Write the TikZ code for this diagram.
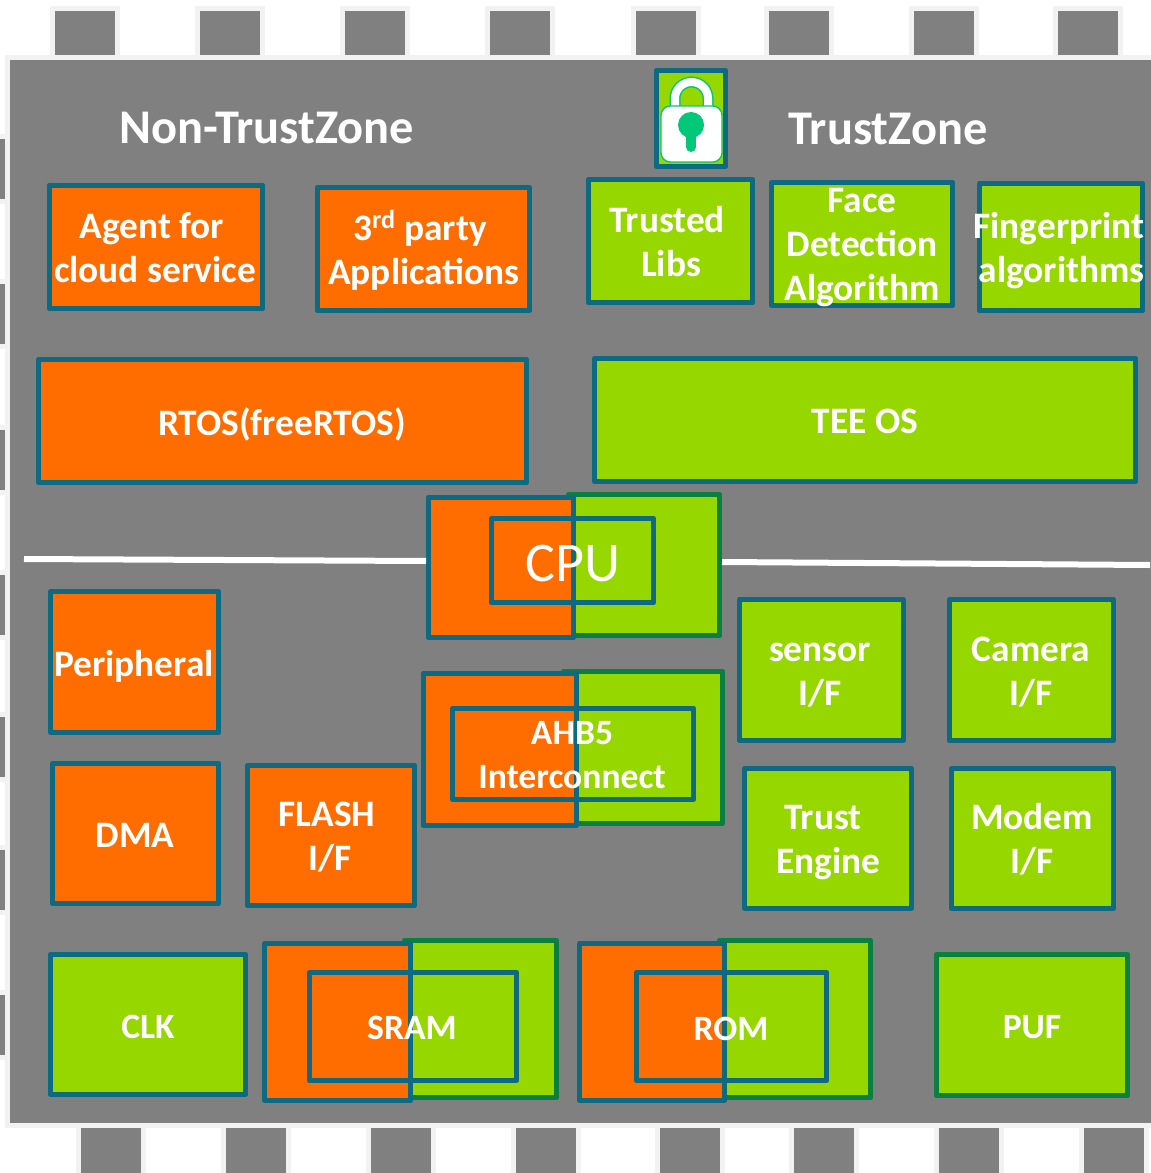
\documentclass[tikz,border=0pt]{standalone}
\usepackage{fontspec}
\setmainfont{Carlito}
\definecolor{chipgray}{HTML}{808080}
\definecolor{pinedge}{HTML}{F2F2F2}
\definecolor{orng}{HTML}{FF6D00}
\definecolor{grn}{HTML}{96D700}
\definecolor{teal}{HTML}{0E6A80}
\definecolor{dgrn}{HTML}{0A7F40}
\definecolor{lockg}{HTML}{00C878}
\tikzset{
  x=0.75pt,y=-0.75pt,
  blk/.style={rectangle,inner sep=0pt,outer sep=0pt,line width=4pt,line join=round},
  ob/.style={blk,draw=teal,fill=orng},
  gb/.style={blk,draw=teal,fill=grn},
  gd/.style={blk,draw=dgrn,fill=grn},
  hollow/.style={blk,draw=teal},
  pin/.style={rectangle,inner sep=0pt,outer sep=0pt,draw=pinedge,fill=chipgray,line width=3.75pt},
  lbl/.style={text=white,font=\fontsize{28}{33}\selectfont\bfseries,align=center,inner sep=0pt},
  lbs/.style={lbl,font=\fontsize{26.7}{33}\selectfont\bfseries},
  ttl/.style={text=white,font=\fontsize{36.3}{44}\selectfont\bfseries,inner sep=0pt},
  wline/.style={draw=white,line width=4.5pt},
}
\newcommand{\bx}[6]{%
  \pgfmathsetmacro{\bxw}{((#5)-(#3)-5)*0.75}%
  \pgfmathsetmacro{\bxh}{((#6)-(#4)-5)*0.75}%
  \pgfmathsetmacro{\bxc}{((#3)+(#5))/2}%
  \pgfmathsetmacro{\bxd}{((#4)+(#6))/2}%
  \node[#2,minimum width=\bxw pt,minimum height=\bxh pt] (#1) at (\bxc,\bxd) {};%
}
\begin{document}
\begin{tikzpicture}
\useasboundingbox (0,0) rectangle (1150,1173);
% top pins
\foreach \i/\a/\b in {1/55/115,2/200/260,3/345/405,4/490/550,5/636/696,6/769/829,7/914/974,8/1058/1118}{
  \bx{pt\i}{pin}{\a-5}{6}{\b+5}{60}
}
% bottom pins
\foreach \i/\a/\b in {1/81/141,2/226/286,3/371/431,4/516/576,5/660/720,6/794/854,7/939/999,8/1084/1144}{
  \bx{pb\i}{pin}{\a-5}{1123}{\b+5}{1180}
}
% left pins
\foreach \i/\a/\b in {1/139/199,2/284/344,3/430/490,4/575/635,5/717/777,6/850/910,7/995/1055}{
  \bx{pl\i}{pin}{-10}{\a-5}{10}{\b+5}
}
% chip
\bx{chip}{pin}{5}{55}{1160}{1128}
% lock
\bx{lockframe}{gb}{654}{68}{728}{169}
\draw[lockg,line width=8.25pt] (675,108) -- (675,98.5) arc[start angle=180,end angle=360,radius=16.5] -- (708,108);
\draw[white,line width=6pt] (675,108) -- (675,98.5) arc[start angle=180,end angle=360,radius=16.5] -- (708,108);
\fill[white,draw=lockg,line width=1pt,rounded corners=7pt] (661,106) rectangle (722,162);
\fill[lockg] (691,125) circle[radius=13];
\draw[lockg,line width=7.5pt,line cap=round] (691,128) -- (691,147);
% upper boxes
\bx{agent}{ob}{47}{183}{265}{311}
\bx{third}{ob}{315}{185}{532}{313}
\bx{libs}{gb}{586}{177}{755}{305}
\bx{face}{gb}{769}{180}{955}{308}
\bx{finger}{gb}{977}{181}{1145}{313}
\bx{rtos}{ob}{36}{357}{529}{485}
\bx{tee}{gb}{592}{356}{1138}{484}
% CPU
\bx{cpug}{gd}{566}{492}{722}{638}
\bx{cpuo}{ob}{426}{495}{576}{640}
\bx{cpui}{hollow}{489}{516}{656}{605}
% white divider
\coordinate (divl) at (24,559);
\coordinate (divla) at (426,561);
\coordinate (divr) at (1150,565);
\coordinate (divra) at (722,562);
\draw[wline] (divl) -- (divla);
\draw[wline] (divra) -- (divr);
% AHB
\bx{ahbg}{gd}{561}{669}{725}{826}
\bx{ahbo}{ob}{421}{671}{579}{828}
\bx{ahbi}{hollow}{450}{706}{696}{802}
% lower boxes
\bx{periph}{ob}{48}{589}{221}{735}
\bx{dma}{ob}{50}{761}{221}{906}
\bx{flash}{ob}{245}{763}{417}{908}
\bx{sensor}{gb}{737}{597}{906}{743}
\bx{camera}{gb}{947}{597}{1116}{743}
\bx{trust}{gb}{742}{766}{914}{911}
\bx{modem}{gb}{949}{766}{1116}{911}
\bx{clk}{gb}{48}{952}{248}{1097}
\bx{sramg}{gd}{402}{938}{559}{1100}
\bx{sramo}{ob}{262}{941}{413}{1103}
\bx{srami}{hollow}{307}{970}{519}{1083}
\bx{romg}{gd}{717}{938}{873}{1100}
\bx{romo}{ob}{577}{941}{727}{1103}
\bx{romi}{hollow}{634}{970}{829}{1083}
\bx{puf}{gd}{934}{952}{1130}{1098}
% texts
\node[ttl] (tnon) at (267,128) {Non-TrustZone};
\node[ttl] (ttz) at (888,129) {TrustZone};
\node[lbl] (tagent) at (155,248) {Agent for\hspace*{4.5pt}\\cloud service};
\node[lbl] (tthird) at (424,250) {3\textsuperscript{rd} party\hspace*{6pt}\\Applications};
\node[lbl] (tlibs) at (667,242) {Trusted\\\hspace*{6pt}Libs};
\node[lbl] (tface) at (862,248) {Face\\Detection\\Algorithm};
\node[lbl] (tfinger) at (1059,251) {Fingerprint\\\hspace*{4pt}algorithms};
\node[lbl] (trtos) at (282,424) {RTOS(freeRTOS)};
\node[lbl] (ttee) at (865,421) {TEE OS};
\node[text=white,inner sep=0pt,font=\fontsize{42}{50}\selectfont] (tcpu) at (573,564) {CPU};
\node[lbs] (tahb) at (572,755) {AHB5\\Interconnect};
\node[lbl] (tperiph) at (134,666) {Peripheral};
\node[lbl] (tdma) at (135,835) {DMA};
\node[lbl] (tflash) at (327,837) {FLASH\\\hspace*{4.5pt}I/F};
\node[lbl] (tsensor) at (820,675) {sensor\\I/F};
\node[lbl] (tcamera) at (1031,672) {Camera\\I/F};
\node[lbl] (ttrust) at (828,843) {Trust\hspace*{7.5pt}\\Engine};
\node[lbl] (tmodem) at (1032,839) {Modem\\I/F};
\node[lbs] (tclk) at (148,1027) {CLK};
\node[lbs] (tsram) at (412,1028) {SRAM};
\node[lbs] (trom) at (731,1029) {ROM};
\node[lbs] (tpuf) at (1032,1027) {PUF};
\end{tikzpicture}
\end{document}
